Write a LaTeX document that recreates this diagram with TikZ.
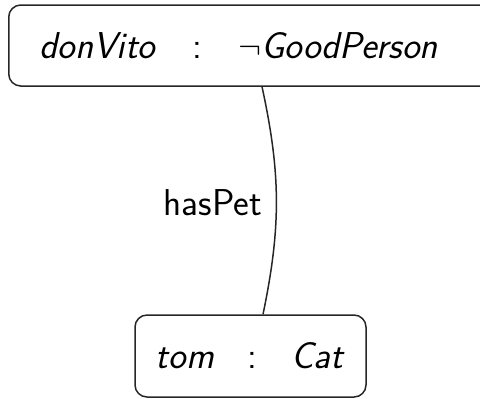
\documentclass[tikz,border=0pt]{standalone}
\begin{document}
\begin{tikzpicture}[x=0.5pt,y=-0.5pt,
  box/.style={draw=black!85, line width=0.75pt, rounded corners=6pt, font=\fontsize{18.7}{22}\sffamily, inner sep=0pt},
  lbl/.style={font=\fontsize{18.7}{22}\sffamily, inner sep=0pt},
  conn/.style={draw=black!85, line width=0.75pt}]
\useasboundingbox (0,0) rectangle (480,398);
\node[box, anchor=west, inner xsep=15.5pt, minimum height=40.5pt] (top) at (8,45.5)
  {\textit{donVito}\hspace{0.95em}:\hspace{0.95em}$\neg$\textit{GoodPerson}\kern12pt};
\node[box, minimum width=115.5pt, minimum height=41pt] (bot) at (250.5,356)
  {\textit{tom}\hspace{0.9em}:\hspace{0.9em}\textit{Cat}};
\draw[conn] (top.south -| 262,0) to[bend left=12] (bot.north -| 263,0);
\node[lbl] (rel) at (213,203) {hasPet};
\end{tikzpicture}
\end{document}
